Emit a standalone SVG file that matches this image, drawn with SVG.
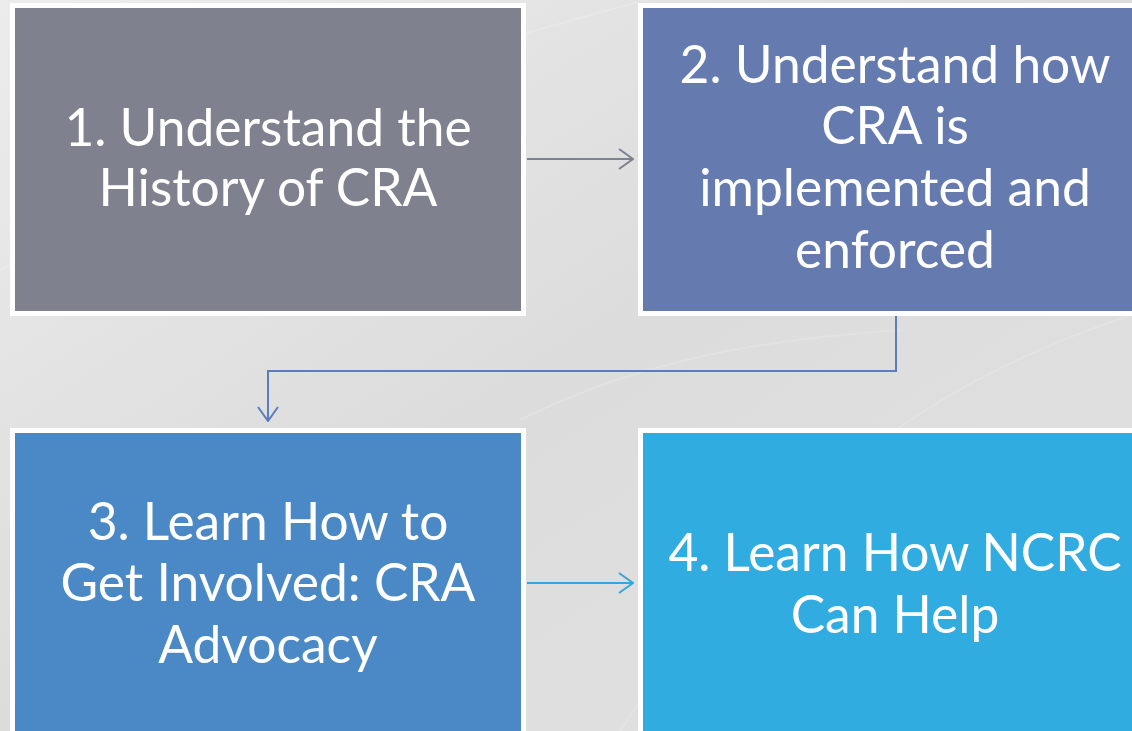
<svg xmlns="http://www.w3.org/2000/svg" width="1132" height="731" viewBox="0 0 1132 731">
  <defs>
    <linearGradient id="bg" x1="0" y1="0" x2="1" y2="1">
      <stop offset="0" stop-color="#ececec"/>
      <stop offset="0.5" stop-color="#dcdcdc"/>
      <stop offset="1" stop-color="#e2e2e2"/>
    </linearGradient>
    <marker id="head-gray" viewBox="0 0 16 22" refX="15" refY="11" markerWidth="16" markerHeight="22" markerUnits="userSpaceOnUse" orient="auto">
      <path d="M1,1 L15,11 L1,21" fill="none" stroke="#7f818e" stroke-width="2"/>
    </marker>
    <marker id="head-blue" viewBox="0 0 16 22" refX="15" refY="11" markerWidth="16" markerHeight="22" markerUnits="userSpaceOnUse" orient="auto">
      <path d="M1,1 L15,11 L1,21" fill="none" stroke="#5a7ebb" stroke-width="2"/>
    </marker>
    <marker id="head-cyan" viewBox="0 0 16 22" refX="15" refY="11" markerWidth="16" markerHeight="22" markerUnits="userSpaceOnUse" orient="auto">
      <path d="M1,1 L15,11 L1,21" fill="none" stroke="#2fa8e0" stroke-width="2"/>
    </marker>
  </defs>
  <style>
    .box { stroke: #ffffff; stroke-width: 5; }
    .label { font-family: Lato, "Open Sans", "Liberation Sans", sans-serif; font-size: 51.5px; fill: #ffffff; text-anchor: middle; }
    .conn { fill: none; stroke-width: 2; }
  </style>

  <!-- backdrop -->
  <rect x="0" y="0" width="1132" height="731" fill="url(#bg)"/>
  <g fill="none" stroke="#ffffff" stroke-opacity="0.15" stroke-width="2">
    <path d="M-40,300 C200,120 420,60 720,-20"/>
    <path d="M620,731 C760,520 900,380 1180,300"/>
    <path d="M520,420 C640,360 760,340 900,330"/>
  </g>

  <!-- connectors -->
  <g id="connectors">
    <path class="conn" stroke="#7f818e" d="M527,159 H633" marker-end="url(#head-gray)"/>
    <path class="conn" stroke="#5a7ebb" d="M896,316 V371 H268 V421" marker-end="url(#head-blue)"/>
    <path class="conn" stroke="#2fa8e0" d="M527,583 H633" marker-end="url(#head-cyan)"/>
  </g>

  <!-- step 1 -->
  <g id="step1">
    <rect class="box" x="12.5" y="5.5" width="511" height="308" fill="#7f818e"/>
    <text class="label" x="268" y="146">1. Understand the</text>
    <text class="label" x="268" y="206">History of CRA</text>
  </g>

  <!-- step 2 -->
  <g id="step2">
    <rect class="box" x="640.5" y="5.5" width="520" height="308" fill="#657bb0"/>
    <text class="label" x="895" y="83">2. Understand how</text>
    <text class="label" x="895" y="144">CRA is</text>
    <text class="label" x="895" y="206">implemented and</text>
    <text class="label" x="895" y="268">enforced</text>
  </g>

  <!-- step 3 -->
  <g id="step3">
    <rect class="box" x="12.5" y="430.5" width="511" height="320" fill="#4a89c6"/>
    <text class="label" x="268" y="540">3. Learn How to</text>
    <text class="label" x="268" y="601">Get Involved: CRA</text>
    <text class="label" x="268" y="663">Advocacy</text>
  </g>

  <!-- step 4 -->
  <g id="step4">
    <rect class="box" x="640.5" y="430.5" width="520" height="320" fill="#31ace1"/>
    <text class="label" x="895" y="571">4. Learn How NCRC</text>
    <text class="label" x="895" y="633">Can Help</text>
  </g>
</svg>
